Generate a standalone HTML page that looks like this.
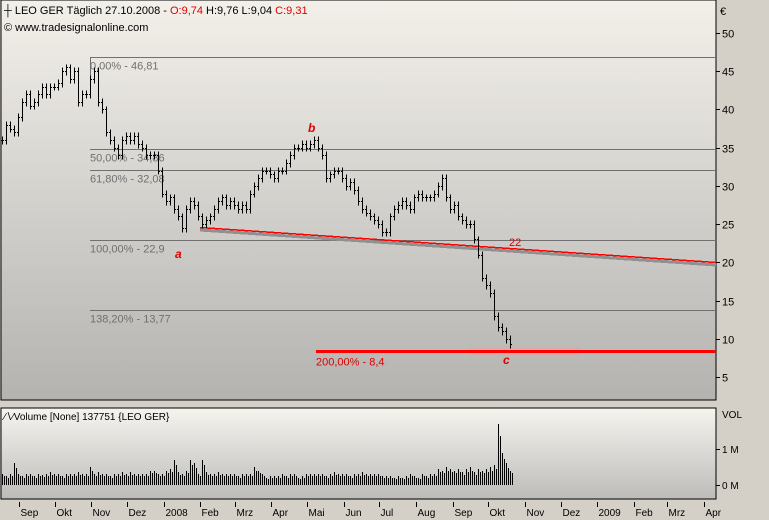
<!DOCTYPE html>
<html><head><meta charset="utf-8"><style>
body{margin:0;background:#d4d0c8;font-family:"Liberation Sans",sans-serif;}
svg{display:block}
#layer line{shape-rendering:crispEdges}
</style></head><body>
<svg id="c" width="769" height="520" xmlns="http://www.w3.org/2000/svg">
<defs>
<linearGradient id="g1" x1="0" y1="0" x2="0" y2="1"><stop offset="0" stop-color="#f3f0ea"/><stop offset="1" stop-color="#b4b3b0"/></linearGradient>
<linearGradient id="g2" x1="0" y1="0" x2="0" y2="1"><stop offset="0" stop-color="#f6f4ef"/><stop offset="1" stop-color="#bdbcb9"/></linearGradient>
</defs>
<rect x="0" y="0" width="769" height="520" fill="#d4d0c8"/>
<rect x="1" y="0" width="715" height="400" fill="url(#g1)" stroke="#000"/>
<rect x="1" y="408" width="715" height="91" fill="url(#g2)" stroke="#000"/>
<g id="layer"></g>
<text x="4" y="14" font-size="11">┼ LEO GER Täglich  27.10.2008 - <tspan fill="#e00000">O:9,74</tspan> H:9,76 L:9,04 <tspan fill="#e00000">C:9,31</tspan></text>
<text x="4" y="31" font-size="11">© www.tradesignalonline.com</text>
<text x="4" y="420" font-size="10">∕∖∕Volume [None] 137751 {LEO GER}</text>
<text x="720" y="15" font-size="11">€</text>
<text x="722" y="418" font-size="10">VOL</text>
</svg>
<script>
const closes=[36,38,37.5,37,39,41,42,40.5,41,42,43,42,43,43,43.5,45,45.5,44,45,41,42,42,44,45,41,40,37,36,35,34,36,36.5,36,36.5,35.5,35,34,34,34,32,29,28,28.5,27,26,24.5,27,28,27.5,26,25,25.5,26,27,28,28.5,27.5,28,27.5,27,27.5,27,29,30,31,32,32,31.5,31,32,32,33,34,35,35,35.5,35,35.5,36,35,34,31,31.5,32,32,31,30,30.5,29.5,28,27,26.5,26,25.5,25,24,24,26,27,27.5,28,27.5,27,28.5,29,28.5,28.5,28.5,29,30,31,28.5,27,27.5,26,25.5,25,25,23,21,18,17,16,13,11.5,11,10,9.3];
const volumes=[0.3,0.25,0.3,0.6,0.3,0.25,0.3,0.3,0.25,0.3,0.28,0.3,0.35,0.3,0.3,0.25,0.3,0.3,0.3,0.35,0.3,0.3,0.5,0.3,0.35,0.3,0.3,0.25,0.3,0.3,0.35,0.3,0.35,0.3,0.3,0.3,0.3,0.4,0.4,0.3,0.3,0.4,0.45,0.7,0.35,0.3,0.4,0.7,0.6,0.3,0.7,0.35,0.3,0.3,0.35,0.3,0.3,0.3,0.3,0.25,0.3,0.3,0.3,0.5,0.4,0.3,0.2,0.25,0.25,0.25,0.3,0.25,0.3,0.3,0.2,0.25,0.3,0.3,0.3,0.3,0.3,0.25,0.3,0.35,0.3,0.3,0.3,0.25,0.3,0.3,0.35,0.3,0.3,0.3,0.3,0.25,0.25,0.25,0.2,0.25,0.2,0.25,0.3,0.25,0.2,0.3,0.25,0.3,0.3,0.45,0.4,0.5,0.45,0.4,0.45,0.35,0.45,0.5,0.35,0.45,0.4,0.45,0.5,0.55,1.7,0.9,0.6,0.4];
const priceTicks=[50,45,40,35,30,25,20,15,10,5];
const volTicks=[1,0];
const volTickLabels=["1 M","0 M"];
const monthLabels=["Sep","Okt","Nov","Dez","2008","Feb","Mrz","Apr","Mai","Jun","Jul","Aug","Sep","Okt","Nov","Dez","2009","Feb","Mrz","Apr"];
const monthDays=[0,30,61,91,122,153,182,213,243,274,304,335,366,396,427,457,488,519,547,578];
const fibLevels=[46.81,34.86,32.08,22.9,13.77];
const fibLabels=["0,00% - 46,81","50,00% - 34,86","61,80% - 32,08","100,00% - 22,9","138,20% - 13,77"];
const targetLevel=8.4;
const trendStart=24.6, trendEnd=20.0;

const NS="http://www.w3.org/2000/svg";
const L=document.getElementById('layer');
const y=v=>Math.round(33+(50-v)*7.644)+0.5;
const xi=i=>2.5+i*4;
const xd=d=>Math.round(19+d*1.185)+0.5;
const vy=v=>Math.round(485-v*36);
function mk(t,a,p){const e=document.createElementNS(NS,t);for(const k in a)e.setAttribute(k,a[k]);(p||L).appendChild(e);return e;}

fibLevels.forEach((lv,i)=>{
 const l=mk('line',{x1:90,x2:716,y1:y(lv),y2:y(lv),stroke:'#707070'});
 
 
 const t=mk('text',{x:90,y:y(lv)+12,'font-size':11,fill:'#707070'});t.textContent=fibLabels[i];
 
 
});
mk('line',{x1:90.5,x2:90.5,y1:y(46.81),y2:y(46.81)+20,stroke:'#707070'});
const tx1=200,tx2=716;
mk('line',{x1:tx1,y1:y(trendStart)+2.5,x2:tx2,y2:y(trendEnd)+2.5,stroke:'#909090','stroke-width':3});
const tl=mk('line',{x1:tx1,y1:y(trendStart),x2:tx2,y2:y(trendEnd),stroke:'#ff0000','stroke-width':1.5});


const t22=mk('text',{x:509,y:246,'font-size':11,fill:'#e00000'});t22.textContent='22';
mk('rect',{x:470,y:y(targetLevel)-4,width:110,height:8,fill:'#e8a0a0',opacity:0.6});
const tg=mk('line',{x1:316,x2:716,y1:y(targetLevel),y2:y(targetLevel),stroke:'#ff0000','stroke-width':3});


const tgl=mk('text',{x:316,y:y(targetLevel)+14,'font-size':11,fill:'#e00000'});tgl.textContent='200,00% - 8,4';
[['a',175,258],['b',308,132],['c',503,364]].forEach(w=>{const t=mk('text',{x:w[1],y:w[2],'font-size':12,'font-weight':'bold','font-style':'italic',fill:'#e00000'});t.textContent=w[0];

});
closes.forEach((c,i)=>{
 const p=i?closes[i-1]:c;const hi=Math.max(p,c)+0.5,lo=Math.min(p,c)-0.5;const x=xi(i);
 const g=mk('g',{stroke:'#000'});
 
 
 mk('line',{x1:x,x2:x,y1:y(hi),y2:y(lo)},g);
 mk('line',{x1:x-1.5,x2:x,y1:y(p),y2:y(p)},g);
 mk('line',{x1:x,x2:x+1.5,y1:y(c),y2:y(c)},g);
});
volumes.forEach((v,i)=>{
 const x=xi(i);
 const b=mk('line',{x1:x,x2:x,y1:485,y2:vy(v),stroke:'#000'});
 
 
 const b2=mk('line',{x1:x+2,x2:x+2,y1:485,y2:vy(v*0.8),stroke:'#000'});
 
 
});
priceTicks.forEach(v=>{
 mk('line',{x1:716,x2:720,y1:y(v),y2:y(v),stroke:'#000'});
 const t=mk('text',{x:722,y:y(v)+4,'font-size':11});t.textContent=v;
 
 
});
volTicks.forEach((v,i)=>{
 mk('line',{x1:716,x2:720,y1:vy(v)+0.5,y2:vy(v)+0.5,stroke:'#000'});
 const t=mk('text',{x:722,y:vy(v)+4,'font-size':10});t.textContent=volTickLabels[i];
 
 
});
monthLabels.forEach((m,i)=>{
 const x=xd(monthDays[i]);
 mk('line',{x1:x,x2:x,y1:502,y2:507,stroke:'#000'});
 const t=mk('text',{x:x+1,y:516,'font-size':10});t.textContent=m;
 
 
});
</script>
</body></html>
